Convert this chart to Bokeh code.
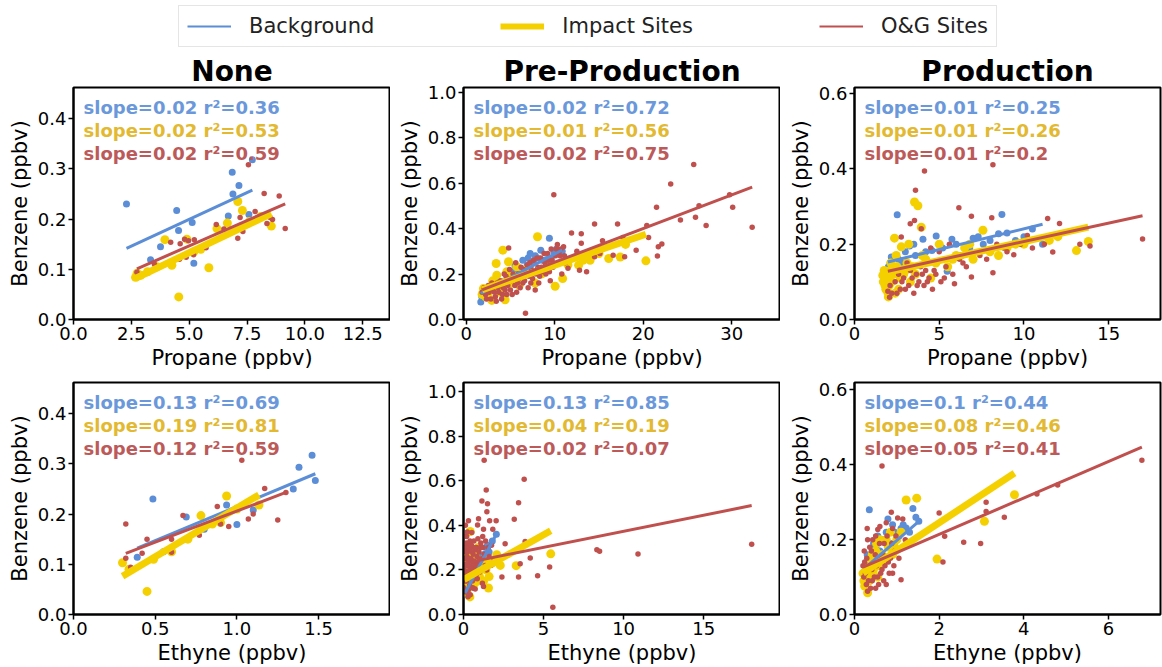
import numpy as np
from bokeh.plotting import figure
from bokeh.models import Label, Legend, LegendItem, FixedTicker, PrintfTickFormatter, Range1d
from bokeh.layouts import column, row
from bokeh.embed import file_html
from bokeh.resources import INLINE

# ---------------- data ----------------
series_names = ["Background", "Impact Sites", "O&G Sites"]
col_titles = ["None", "Pre-Production", "Production"]
x_labels = ["Propane (ppbv)", "Ethyne (ppbv)"]
y_label = "Benzene (ppbv)"

# None / Propane
none_prop_bg = [(2.29, 0.230), (3.33, 0.119), (3.76, 0.145), (4.46, 0.217), (4.54, 0.177), (5.13, 0.193),
                (5.2, 0.112), (6.69, 0.206), (6.86, 0.293), (6.89, 0.250), (7.15, 0.267), (7.58, 0.209), (7.73, 0.318)]
none_prop_imp = [(2.68, 0.084), (2.75, 0.092), (2.9, 0.088), (3.2, 0.095), (3.6, 0.105), (3.95, 0.159), (4.25, 0.108),
                 (4.55, 0.045), (4.9, 0.160), (5.2, 0.135), (5.5, 0.140), (5.85, 0.103), (6.2, 0.181), (6.65, 0.192),
                 (7.1, 0.235), (7.3, 0.217), (7.6, 0.195), (8.1, 0.205), (8.55, 0.186)]
none_prop_og = [(2.74, 0.094), (3.5, 0.11), (4.2, 0.154), (4.58, 0.120), (4.61, 0.151), (4.8, 0.160), (4.87, 0.124),
                (4.97, 0.157), (5.19, 0.129), (5.22, 0.159), (5.73, 0.143), (6.17, 0.189), (6.5, 0.18), (7.1, 0.162),
                (7.2, 0.203), (7.32, 0.175), (7.56, 0.308), (7.85, 0.215), (8.24, 0.251), (8.36, 0.191), (8.5, 0.203),
                (8.6, 0.199), (8.89, 0.246), (9.15, 0.181)]
none_prop_fit = [(0.0213, 0.093), (0.022, 0.023), (0.0202, 0.0456)]
none_prop_text = [("0.02", "0.36"), ("0.02", "0.53"), ("0.02", "0.59")]

# Pre-Production / Propane
pre_prop_bg = [(1.65, 0.077), (1.77, 0.099), (2.5, 0.12), (3.2, 0.15), (3.5, 0.17), (4.2, 0.165), (4.5, 0.20),
               (4.8, 0.19), (5.0, 0.17), (5.3, 0.21), (5.5, 0.24), (5.8, 0.23), (6.0, 0.21), (6.4, 0.261),
               (6.6, 0.22), (6.9, 0.24), (7.0, 0.27), (7.23, 0.29), (7.6, 0.253), (7.8, 0.28), (8.0, 0.27),
               (8.43, 0.305), (8.6, 0.26), (9.1, 0.264), (9.4, 0.357), (9.6, 0.27), (9.9, 0.298), (10.2, 0.31),
               (10.6, 0.29), (10.85, 0.30)]
pre_prop_imp = [(1.8, 0.11), (1.95, 0.136), (2.2, 0.10), (2.5, 0.10), (2.7, 0.13), (2.9, 0.084), (3.0, 0.17),
                (3.2, 0.14), (3.39, 0.246), (3.46, 0.195), (3.6, 0.15), (3.8, 0.12), (4.0, 0.13), (4.14, 0.305),
                (4.4, 0.087), (4.59, 0.21), (4.78, 0.254), (4.9, 0.18), (5.2, 0.16), (5.5, 0.19), (5.72, 0.232),
                (6.0, 0.15), (6.3, 0.20), (6.8, 0.22), (7.0, 0.20), (7.8, 0.16), (8.06, 0.364), (8.5, 0.20),
                (9.0, 0.22), (9.5, 0.24), (10.05, 0.146), (10.9, 0.18), (11.5, 0.24), (12.7, 0.239), (13.2, 0.26),
                (14.0, 0.26), (15.0, 0.29), (16.1, 0.268), (17.4, 0.275), (18.0, 0.33), (20.3, 0.258)]
pre_prop_og = [(1.8, 0.12), (2.0, 0.14), (2.2, 0.11), (2.3, 0.09), (2.5, 0.15), (2.6, 0.12), (2.8, 0.09), (2.9, 0.16),
               (3.0, 0.13), (3.2, 0.12), (3.3, 0.10), (3.4, 0.08), (3.5, 0.16), (3.6, 0.14), (3.7, 0.12), (3.9, 0.17),
               (4.0, 0.09), (4.1, 0.11), (4.2, 0.14), (4.3, 0.20), (4.4, 0.13), (4.5, 0.19), (4.6, 0.11), (4.7, 0.15),
               (4.8, 0.314), (4.9, 0.22), (5.0, 0.13), (5.1, 0.17), (5.2, 0.11), (5.3, 0.20), (5.4, 0.18), (5.5, 0.15),
               (5.6, 0.25), (5.7, 0.12), (5.8, 0.16), (5.9, 0.20), (6.0, 0.18), (6.1, 0.14), (6.2, 0.23), (6.3, 0.19),
               (6.4, 0.16), (6.5, 0.22), (6.6, 0.17), (6.7, 0.028), (6.8, 0.20), (6.9, 0.24), (7.0, 0.14), (7.1, 0.19),
               (7.2, 0.25), (7.3, 0.16), (7.4, 0.22), (7.5, 0.18), (7.6, 0.26), (7.7, 0.21), (7.8, 0.13), (7.9, 0.20),
               (8.0, 0.27), (8.1, 0.23), (8.2, 0.16), (8.3, 0.19), (8.4, 0.27), (8.5, 0.23), (8.6, 0.21), (8.8, 0.29),
               (8.9, 0.25), (9.0, 0.20), (9.1, 0.23), (9.2, 0.29), (9.3, 0.26), (9.4, 0.21), (9.5, 0.17), (9.6, 0.31),
               (9.7, 0.26), (9.8, 0.23), (9.9, 0.549), (10.0, 0.24), (10.1, 0.28), (10.2, 0.31), (10.3, 0.33),
               (10.4, 0.25), (10.5, 0.30), (10.6, 0.28), (10.7, 0.31), (10.8, 0.20), (11.0, 0.32), (11.1, 0.28),
               (11.2, 0.25), (11.5, 0.225), (11.9, 0.38), (12.5, 0.30), (12.8, 0.217), (13.0, 0.335), (13.0, 0.377),
               (13.6, 0.21), (14.5, 0.276), (14.5, 0.42), (15.1, 0.29), (15.4, 0.346), (16.6, 0.283), (17.1, 0.42),
               (17.7, 0.361), (17.9, 0.276), (19.2, 0.305), (20.4, 0.413), (20.6, 0.36), (21.5, 0.494), (21.6, 0.279),
               (21.7, 0.32), (22.1, 0.332), (23.1, 0.596), (24.2, 0.437), (25.7, 0.681), (25.9, 0.45), (26.3, 0.50),
               (27.1, 0.413), (29.75, 0.549), (30.1, 0.494), (32.3, 0.406)]
pre_prop_fit = [(0.0208, 0.080), (0.0132, 0.107), (0.0148, 0.104)]
pre_prop_text = [("0.02", "0.72"), ("0.01", "0.56"), ("0.02", "0.75")]

# Production / Propane
prod_prop_bg = [(1.97, 0.095), (2.0, 0.14), (2.1, 0.15), (2.17, 0.166), (2.3, 0.12), (2.52, 0.278), (2.6, 0.16),
                (2.8, 0.15), (3.0, 0.18), (3.25, 0.195), (3.5, 0.20), (3.6, 0.17), (4.04, 0.213), (4.2, 0.18),
                (4.57, 0.183), (4.82, 0.222), (5.2, 0.19), (5.47, 0.128), (5.75, 0.213), (6.0, 0.20), (6.3, 0.17),
                (6.8, 0.19), (7.0, 0.216), (7.3, 0.22), (7.6, 0.20), (8.0, 0.21), (8.5, 0.228), (8.7, 0.279),
                (9.0, 0.23), (9.5, 0.21), (10.0, 0.22), (10.5, 0.24), (11.1, 0.20)]
prod_prop_imp = [(1.67, 0.117), (1.7, 0.10), (1.75, 0.13), (1.8, 0.09), (1.85, 0.08), (1.9, 0.11), (1.97, 0.072),
                 (2.0, 0.06), (2.05, 0.09), (2.1, 0.13), (2.15, 0.15), (2.2, 0.10), (2.3, 0.12), (2.36, 0.216),
                 (2.4, 0.07), (2.46, 0.17), (2.5, 0.14), (2.6, 0.08), (2.7, 0.11), (2.76, 0.193), (2.9, 0.12),
                 (3.0, 0.13), (3.1, 0.15), (3.2, 0.20), (3.3, 0.10), (3.4, 0.14), (3.54, 0.312), (3.6, 0.12),
                 (3.74, 0.302), (3.94, 0.245), (4.0, 0.17), (4.2, 0.16), (4.5, 0.11), (4.8, 0.15), (5.0, 0.20),
                 (5.5, 0.14), (5.8, 0.16), (6.0, 0.17), (6.5, 0.19), (6.8, 0.20), (7.0, 0.16), (7.58, 0.237),
                 (8.0, 0.18), (8.5, 0.17), (9.0, 0.19), (9.5, 0.20), (10.0, 0.20), (11.5, 0.21), (12.0, 0.22),
                 (13.1, 0.183), (13.8, 0.207)]
prod_prop_og = [(1.97, 0.075), (2.07, 0.059), (2.1, 0.09), (2.2, 0.07), (2.3, 0.13), (2.4, 0.10), (2.5, 0.07),
                (2.6, 0.12), (2.7, 0.08), (2.76, 0.219), (2.8, 0.10), (2.9, 0.11), (3.0, 0.08), (3.1, 0.15),
                (3.2, 0.09), (3.29, 0.254), (3.3, 0.13), (3.4, 0.11), (3.5, 0.07), (3.54, 0.263), (3.6, 0.343),
                (3.65, 0.12), (3.7, 0.09), (3.8, 0.10), (3.9, 0.14), (3.94, 0.241), (4.0, 0.12), (4.1, 0.09),
                (4.13, 0.394), (4.2, 0.13), (4.3, 0.10), (4.4, 0.11), (4.5, 0.19), (4.6, 0.08), (4.7, 0.13),
                (4.8, 0.12), (5.0, 0.18), (5.1, 0.10), (5.3, 0.11), (5.4, 0.14), (5.6, 0.20), (5.8, 0.12),
                (5.9, 0.095), (6.16, 0.297), (6.2, 0.16), (6.4, 0.15), (6.6, 0.14), (6.9, 0.274), (6.9, 0.113),
                (7.2, 0.18), (7.4, 0.17), (7.8, 0.16), (8.1, 0.27), (8.17, 0.124), (8.17, 0.411), (8.4, 0.20),
                (8.8, 0.19), (9.0, 0.18), (9.4, 0.172), (9.8, 0.20), (10.2, 0.223), (10.5, 0.19), (11.2, 0.20),
                (11.4, 0.268), (11.7, 0.179), (12.1, 0.255), (13.3, 0.20), (13.9, 0.195), (17.0, 0.214)]
prod_prop_fit = [(0.011, 0.131), (0.0101, 0.106), (0.0098, 0.109)]
prod_prop_text = [("0.01", "0.25"), ("0.01", "0.26"), ("0.01", "0.2")]

# None / Ethyne
none_eth_bg = [(0.39, 0.114), (0.486, 0.230), (0.55, 0.125), (0.69, 0.194), (0.8, 0.17), (0.937, 0.218), (1.0, 0.179),
               (1.1, 0.208), (1.345, 0.250), (1.38, 0.293), (1.46, 0.317), (1.48, 0.267)]
none_eth_imp = [(0.30, 0.103), (0.34, 0.09), (0.45, 0.046), (0.49, 0.11), (0.6, 0.125), (0.7, 0.15), (0.78, 0.197),
                (0.85, 0.18), (0.9, 0.183), (0.937, 0.236), (1.0, 0.21), (1.135, 0.218)]
none_eth_og = [(0.32, 0.180), (0.32, 0.112), (0.35, 0.094), (0.42, 0.122), (0.45, 0.150), (0.6, 0.124), (0.6, 0.150),
               (0.67, 0.197), (0.77, 0.158), (0.88, 0.215), (0.9, 0.180), (0.95, 0.175), (1.03, 0.307), (1.07, 0.190),
               (1.1, 0.200), (1.17, 0.251), (1.25, 0.188), (1.3, 0.243)]
none_eth_fit = [(0.136, 0.079), (0.194, 0.018), (0.124, 0.082)]
none_eth_text = [("0.13", "0.69"), ("0.19", "0.81"), ("0.12", "0.59")]

# Pre-Production / Ethyne
pre_eth_bg = [(0.1, 0.09), (0.15, 0.13), (0.2, 0.11), (0.25, 0.14), (0.3, 0.16), (0.4, 0.14), (0.45, 0.12),
              (0.5, 0.19), (0.6, 0.17), (0.65, 0.22), (0.7, 0.20), (0.8, 0.24), (0.9, 0.21), (1.0, 0.26),
              (1.1, 0.22), (1.2, 0.25), (1.3, 0.27), (1.4, 0.30), (1.5, 0.31), (1.6, 0.28), (1.8, 0.33), (2.05, 0.36)]
pre_eth_imp = [(0.03, 0.20), (0.05, 0.15), (0.08, 0.12), (0.1, 0.25), (0.12, 0.27), (0.15, 0.10), (0.18, 0.17),
               (0.2, 0.30), (0.22, 0.23), (0.25, 0.20), (0.28, 0.15), (0.3, 0.12), (0.33, 0.20), (0.35, 0.28),
               (0.38, 0.26), (0.4, 0.079), (0.42, 0.372), (0.45, 0.13), (0.5, 0.18), (0.55, 0.21), (0.6, 0.25),
               (0.65, 0.18), (0.7, 0.14), (0.75, 0.26), (0.8, 0.22), (0.85, 0.15), (0.9, 0.30), (0.95, 0.22),
               (1.0, 0.17), (1.1, 0.24), (1.2, 0.21), (1.25, 0.149), (1.35, 0.25), (1.4, 0.20), (1.56, 0.119),
               (1.6, 0.17), (1.8, 0.23), (2.08, 0.268), (2.3, 0.22), (3.29, 0.219), (5.45, 0.272)]
pre_eth_og = [(0.02, 0.12), (0.05, 0.20), (0.05, 0.35), (0.08, 0.25), (0.1, 0.30), (0.1, 0.18), (0.12, 0.15),
              (0.12, 0.40), (0.14, 0.28), (0.15, 0.25), (0.16, 0.22), (0.18, 0.10), (0.18, 0.32), (0.2, 0.35),
              (0.2, 0.15), (0.22, 0.18), (0.22, 0.26), (0.24, 0.37), (0.25, 0.28), (0.26, 0.19), (0.28, 0.08),
              (0.28, 0.30), (0.3, 0.22), (0.3, 0.11), (0.31, 0.42), (0.33, 0.24), (0.35, 0.32), (0.36, 0.29),
              (0.38, 0.13), (0.38, 0.20), (0.4, 0.25), (0.41, 0.33), (0.42, 0.089), (0.44, 0.17), (0.45, 0.30),
              (0.47, 0.25), (0.49, 0.31), (0.5, 0.20), (0.52, 0.368), (0.53, 0.22), (0.55, 0.15), (0.56, 0.28),
              (0.58, 0.12), (0.6, 0.27), (0.62, 0.20), (0.65, 0.33), (0.66, 0.24), (0.68, 0.16), (0.7, 0.22),
              (0.72, 0.29), (0.73, 0.114), (0.75, 0.30), (0.77, 0.21), (0.8, 0.18), (0.82, 0.30), (0.85, 0.26),
              (0.86, 0.16), (0.88, 0.401), (0.9, 0.34), (0.92, 0.23), (0.94, 0.429), (0.97, 0.28), (1.0, 0.24),
              (1.02, 0.19), (1.05, 0.30), (1.08, 0.32), (1.1, 0.20), (1.12, 0.25), (1.15, 0.509), (1.18, 0.14),
              (1.2, 0.35), (1.22, 0.30), (1.25, 0.382), (1.25, 0.126), (1.29, 0.692), (1.3, 0.27), (1.35, 0.22),
              (1.38, 0.33), (1.42, 0.558), (1.45, 0.20), (1.46, 0.461), (1.5, 0.496), (1.55, 0.30), (1.6, 0.26),
              (1.63, 0.42), (1.7, 0.22), (1.75, 0.31), (1.83, 0.382), (1.9, 0.24), (2.04, 0.42), (2.2, 0.25),
              (2.4, 0.168), (2.6, 0.317), (3.17, 0.427), (3.44, 0.501), (3.44, 0.168), (3.54, 0.228), (3.79, 0.606),
              (3.85, 0.327), (4.17, 0.253), (4.63, 0.174), (5.38, 0.213), (5.58, 0.033), (8.33, 0.29), (8.5, 0.283),
              (10.9, 0.271), (18.0, 0.315)]
pre_eth_fit = [(0.135, 0.083), (0.0403, 0.156), (0.0144, 0.229)]
pre_eth_text = [("0.13", "0.85"), ("0.04", "0.19"), ("0.02", "0.07")]

# Production / Ethyne
prod_eth_bg = [(0.25, 0.13), (0.3, 0.16), (0.35, 0.28), (0.4, 0.15), (0.45, 0.19), (0.5, 0.18), (0.55, 0.21),
               (0.6, 0.17), (0.65, 0.20), (0.7, 0.20), (0.75, 0.22), (0.79, 0.255), (0.85, 0.19), (0.9, 0.24),
               (0.95, 0.22), (1.05, 0.21), (1.1, 0.23), (1.15, 0.24), (1.22, 0.231), (1.3, 0.22), (1.38, 0.283),
               (1.45, 0.26), (1.52, 0.249)]
prod_eth_imp = [(0.2, 0.11), (0.22, 0.09), (0.24, 0.076), (0.26, 0.10), (0.28, 0.13), (0.3, 0.12), (0.31, 0.058),
                (0.35, 0.09), (0.38, 0.11), (0.4, 0.15), (0.42, 0.16), (0.45, 0.12), (0.48, 0.14), (0.5, 0.17),
                (0.52, 0.19), (0.55, 0.10), (0.58, 0.13), (0.6, 0.20), (0.65, 0.16), (0.7, 0.14), (0.75, 0.20),
                (0.8, 0.18), (0.85, 0.22), (0.9, 0.16), (0.95, 0.18), (1.0, 0.20), (1.1, 0.22), (1.22, 0.306),
                (1.47, 0.311), (1.95, 0.148), (3.07, 0.249), (3.78, 0.32)]
prod_eth_og = [(0.2, 0.13), (0.22, 0.10), (0.23, 0.17), (0.24, 0.14), (0.26, 0.11), (0.28, 0.08), (0.29, 0.15),
               (0.3, 0.23), (0.31, 0.20), (0.31, 0.062), (0.33, 0.09), (0.35, 0.12), (0.36, 0.18), (0.38, 0.07),
               (0.4, 0.17), (0.41, 0.12), (0.42, 0.09), (0.43, 0.20), (0.45, 0.13), (0.47, 0.10), (0.49, 0.16),
               (0.5, 0.07), (0.5, 0.21), (0.52, 0.13), (0.55, 0.227), (0.55, 0.10), (0.57, 0.08), (0.59, 0.19),
               (0.6, 0.15), (0.6, 0.235), (0.62, 0.11), (0.65, 0.397), (0.65, 0.12), (0.67, 0.16), (0.69, 0.09),
               (0.7, 0.19), (0.72, 0.13), (0.75, 0.08), (0.75, 0.245), (0.77, 0.21), (0.8, 0.14), (0.82, 0.11),
               (0.85, 0.15), (0.87, 0.273), (0.88, 0.19), (0.9, 0.11), (0.9, 0.23), (0.93, 0.13), (0.95, 0.17),
               (0.98, 0.21), (1.02, 0.258), (1.05, 0.15), (1.1, 0.093), (1.12, 0.18), (1.14, 0.255), (1.2, 0.20),
               (2.0, 0.271), (2.09, 0.14), (2.13, 0.209), (2.58, 0.193), (2.98, 0.19), (3.11, 0.30), (3.11, 0.275),
               (3.54, 0.26), (4.31, 0.322), (4.8, 0.346), (6.79, 0.412)]
prod_eth_fit = [(0.098, 0.100), (0.0746, 0.096), (0.0486, 0.117)]
prod_eth_text = [("0.1", "0.44"), ("0.08", "0.46"), ("0.05", "0.41")]

# axes ranges and ticks
none_prop_xr, none_prop_yr = (0.0, 13.7), (0.0, 0.462)
pre_prop_xr, pre_prop_yr = (-0.3, 35.5), (0.0, 1.02)
prod_prop_xr, prod_prop_yr = (0.0, 18.06), (0.0, 0.616)
none_eth_xr, none_eth_yr = (0.0, 1.94), (0.0, 0.462)
pre_eth_xr, pre_eth_yr = (0.0, 19.8), (0.0, 1.04)
prod_eth_xr, prod_eth_yr = (0.0, 7.23), (0.0, 0.62)

none_prop_xticks = [0, 2.5, 5, 7.5, 10, 12.5]
pre_prop_xticks = [0, 10, 20, 30]
prod_prop_xticks = [0, 5, 10, 15]
none_eth_xticks = [0, 0.5, 1.0, 1.5]
pre_eth_xticks = [0, 5, 10, 15]
prod_eth_xticks = [0, 2, 4, 6]
none_yticks = [0, 0.1, 0.2, 0.3, 0.4]
pre_yticks = [0, 0.2, 0.4, 0.6, 0.8, 1.0]
prod_yticks = [0, 0.2, 0.4, 0.6]

# ---------------- style ----------------
FONT = "DejaVu Sans"
PT_COLORS = ["#5B8ED6", "#F5D000", "#C0504D"]
TXT_COLORS = ["#6A98DA", "#E2B931", "#BC5A5A"]
PT_SIZES = [7, 9, 5.5]
LINE_W = [3, 7, 3]


def style_axis(ax, ticks, fmt, label):
    ax.ticker = FixedTicker(ticks=ticks)
    ax.formatter = PrintfTickFormatter(format=fmt)
    ax.axis_label = label
    ax.axis_label_text_font = FONT
    ax.axis_label_text_font_size = "21px"
    ax.axis_label_text_font_style = "normal"
    ax.axis_label_text_color = "black"
    ax.axis_label_standoff = 3
    ax.major_label_text_font = FONT
    ax.major_label_text_font_size = "18px"
    ax.major_label_text_color = "black"
    ax.major_label_standoff = 2
    ax.axis_line_width = 2
    ax.axis_line_color = "black"
    ax.major_tick_line_width = 1.5
    ax.major_tick_line_color = "black"
    ax.major_tick_out = 5
    ax.major_tick_in = 0
    ax.minor_tick_line_color = None


def make_panel(data, fits, texts, xr, yr, xticks, xfmt, yticks, yfmt, xlabel, title,
               width, height, bl, br, bt, bb):
    p = figure(width=width, height=height, x_range=Range1d(*xr), y_range=Range1d(*yr),
               output_backend="svg", toolbar_location=None, title=title,
               min_border_left=bl, min_border_right=br, min_border_top=bt, min_border_bottom=bb)
    p.grid.visible = False
    p.outline_line_color = "black"
    p.outline_line_width = 2
    p.background_fill_color = "white"
    p.border_fill_color = "white"
    if title:
        p.title.text_font = FONT
        p.title.text_font_size = "28px"
        p.title.text_font_style = "bold"
        p.title.align = "center"
        p.title.standoff = 0
        p.title.text_color = "black"
    style_axis(p.xaxis[0], xticks, xfmt, xlabel)
    style_axis(p.yaxis[0], yticks, yfmt, y_label)
    for i, pts in enumerate(data):
        xs = [a for a, b in pts]
        ys = [b for a, b in pts]
        p.scatter(xs, ys, size=PT_SIZES[i], color=PT_COLORS[i], line_color=None)
    for i, pts in enumerate(data):
        xs = np.array([min(a for a, b in pts), max(a for a, b in pts)])
        slope, icpt = fits[i]
        p.line(xs, icpt + slope * xs, line_width=LINE_W[i], color=PT_COLORS[i])
    x0, x1 = xr
    y0, y1 = yr
    fr_h = height - bt - bb
    for i, (s, r2) in enumerate(texts):
        p.add_layout(Label(x=x0 + (10.0 / (width - bl - br)) * (x1 - x0),
                           y=y1 - ((20 + 23 * i) / fr_h) * (y1 - y0),
                           text=f"slope={s} r\u00b2={r2}", text_font=FONT, text_font_size="18px",
                           text_font_style="bold", text_color=TXT_COLORS[i], text_baseline="middle"))
    return p


W1, W3 = 390, 382
H1, H2 = 320, 295

p1 = make_panel([none_prop_bg, none_prop_imp, none_prop_og], none_prop_fit, none_prop_text,
                none_prop_xr, none_prop_yr, none_prop_xticks, "%.1f", none_yticks, "%.1f",
                x_labels[0], col_titles[0], W1, H1, 73, 0, 35, 53)
p2 = make_panel([pre_prop_bg, pre_prop_imp, pre_prop_og], pre_prop_fit, pre_prop_text,
                pre_prop_xr, pre_prop_yr, pre_prop_xticks, "%d", pre_yticks, "%.1f",
                x_labels[0], col_titles[1], W1, H1, 73, 0, 35, 53)
p3 = make_panel([prod_prop_bg, prod_prop_imp, prod_prop_og], prod_prop_fit, prod_prop_text,
                prod_prop_xr, prod_prop_yr, prod_prop_xticks, "%d", prod_yticks, "%.1f",
                x_labels[0], col_titles[2], W3, H1, 74, 2, 35, 53)
p4 = make_panel([none_eth_bg, none_eth_imp, none_eth_og], none_eth_fit, none_eth_text,
                none_eth_xr, none_eth_yr, none_eth_xticks, "%.1f", none_yticks, "%.1f",
                x_labels[1], None, W1, H2, 73, 0, 10, 52)
p5 = make_panel([pre_eth_bg, pre_eth_imp, pre_eth_og], pre_eth_fit, pre_eth_text,
                pre_eth_xr, pre_eth_yr, pre_eth_xticks, "%d", pre_yticks, "%.1f",
                x_labels[1], None, W1, H2, 73, 0, 10, 52)
p6 = make_panel([prod_eth_bg, prod_eth_imp, prod_eth_og], prod_eth_fit, prod_eth_text,
                prod_eth_xr, prod_eth_yr, prod_eth_xticks, "%d", prod_yticks, "%.1f",
                x_labels[1], None, W3, H2, 74, 2, 10, 52)

# legend strip: proxy line renderers kept outside the visible range, used only for legend glyphs
lf = figure(width=1162, height=52, output_backend="svg", toolbar_location=None,
            x_range=Range1d(0, 1), y_range=Range1d(0, 1), x_axis_location=None, y_axis_location=None,
            min_border=0)
lf.grid.visible = False
lf.outline_line_color = None
leg_w = [2, 6, 2]
proxy_x = [5, 6]
proxy_y = [5, 6]
rs = [lf.line(proxy_x, proxy_y, color=PT_COLORS[i], line_width=leg_w[i]) for i in range(3)]
legend = Legend(items=[LegendItem(label=series_names[i], renderers=[rs[i]]) for i in range(3)],
                orientation="horizontal", location=(178, 5), spacing=126, glyph_width=44,
                label_standoff=18, padding=8, margin=0, label_text_font=FONT, label_text_font_size="21px",
                label_text_color="#222222",
                border_line_color="#cccccc", border_line_width=1.5, background_fill_alpha=1.0)
lf.add_layout(legend)

layout = column(lf, row(p1, p2, p3), row(p4, p5, p6))
open("out.html", "w").write(file_html(layout, INLINE))
